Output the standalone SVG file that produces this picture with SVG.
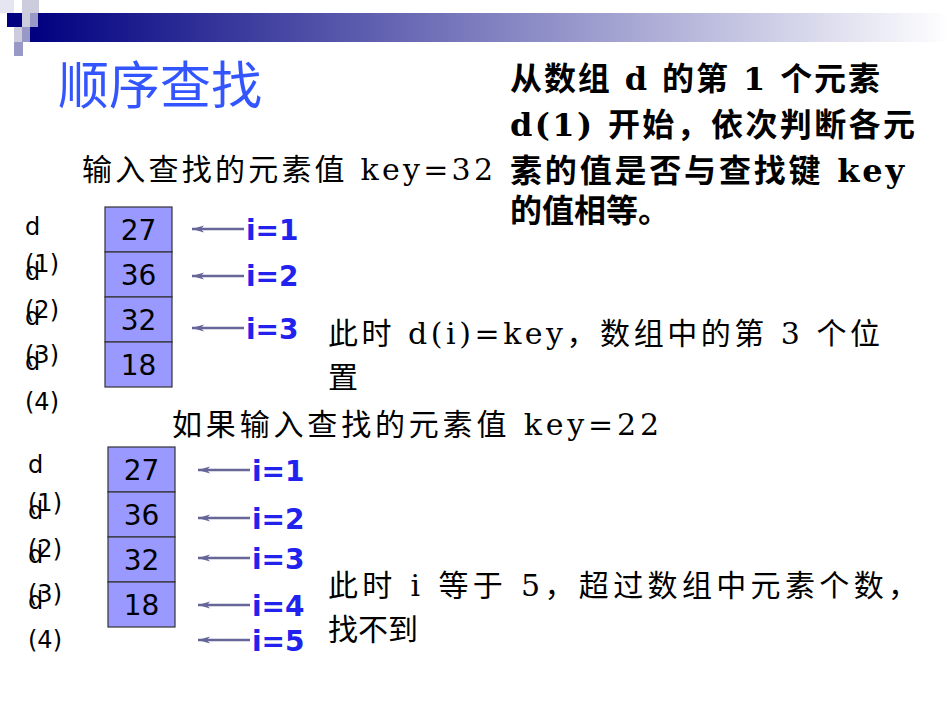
<svg xmlns="http://www.w3.org/2000/svg" width="950" height="713" viewBox="0 0 950 713">
<defs>
<linearGradient id="bar" x1="0" x2="1" y1="0" y2="0"><stop offset="0" stop-color="#000080"/><stop offset="0.5" stop-color="#8080c0"/><stop offset="1" stop-color="#ffffff"/></linearGradient>
<marker id="ah" markerWidth="12" markerHeight="8" refX="12" refY="4" orient="auto" markerUnits="userSpaceOnUse"><path d="M0,0.5 L12,4 L0,7.5 L3,4 Z" fill="#666699"/></marker>
<style>
.cell{fill:#9999ff;stroke:#333333;stroke-width:1.2}
.num{font-family:"DejaVu Sans",sans-serif;font-size:28px;fill:#000;text-anchor:middle}
.lbl{font-family:"DejaVu Sans",sans-serif;font-size:24px;fill:#000}
.iv{font-family:"DejaVu Sans",sans-serif;font-size:28px;font-weight:bold;fill:#2222ee}
.cn{font-family:"DejaVu Serif","Noto Sans CJK SC",serif;font-size:30px;fill:#000}
.cnb{font-family:"DejaVu Serif","Noto Sans CJK SC",serif;font-size:32px;font-weight:bold;fill:#000}
.arr{stroke:#666699;stroke-width:2.5;marker-end:url(#ah)}
</style>
</defs>
<g id="header">
<rect x="30" y="13" width="920" height="29" fill="url(#bar)"/>
<rect x="0" y="0" width="14" height="13" fill="#e6e6f2"/>
<rect x="22" y="0" width="17" height="13" fill="#ccccdd"/>
<rect x="7" y="13" width="15" height="14" fill="#000080"/>
<rect x="22" y="13" width="8" height="14" fill="#ccccdd"/>
<rect x="30" y="13" width="8" height="14" fill="#9999c8"/>
<rect x="14" y="27" width="16" height="15" fill="#ccccdd"/>
<rect x="22" y="27" width="8" height="15" fill="#9999c8"/>
<rect x="14" y="42" width="9" height="14" fill="#9999c8"/>
<text x="58" y="104" font-family="'Noto Sans CJK SC',sans-serif" font-size="51" fill="#3355ff">顺序查找</text>
</g>
<g id="desc">
<text class="cnb" x="510" y="90" textLength="370">从数组 d 的第 1 个元素</text>
<text class="cnb" x="510" y="136" textLength="405">d(1) 开始，依次判断各元</text>
<text class="cnb" x="510" y="182" textLength="394">素的值是否与查找键 key</text>
<text class="cnb" x="510" y="222">的值相等。</text>
</g>
<g id="caption1"><text class="cn" x="82" y="180" textLength="411">输入查找的元素值 key=32</text></g>
<g id="array1">
<rect class="cell" x="105" y="207" width="67" height="45"/><text class="num" x="138.5" y="240">27</text>
<rect class="cell" x="105" y="252" width="67" height="45"/><text class="num" x="138.5" y="285">36</text>
<rect class="cell" x="105" y="297" width="67" height="45"/><text class="num" x="138.5" y="330">32</text>
<rect class="cell" x="105" y="342" width="67" height="45"/><text class="num" x="138.5" y="375">18</text>
<text class="lbl" x="25" y="235">d</text><text class="lbl" x="25" y="272">(1)</text>
<text class="lbl" x="25" y="280">d</text><text class="lbl" x="25" y="318">(2)</text>
<text class="lbl" x="25" y="325">d</text><text class="lbl" x="25" y="363">(3)</text>
<text class="lbl" x="25" y="370">d</text><text class="lbl" x="25" y="410">(4)</text>
</g>
<g id="connectors">
<line class="arr" x1="244" y1="229" x2="192" y2="229"/>
<line class="arr" x1="244" y1="276" x2="192" y2="276"/>
<line class="arr" x1="244" y1="328" x2="192" y2="328"/>
<line class="arr" x1="250" y1="470" x2="198" y2="470"/>
<line class="arr" x1="250" y1="518" x2="198" y2="518"/>
<line class="arr" x1="250" y1="558" x2="198" y2="558"/>
<line class="arr" x1="250" y1="605" x2="198" y2="605"/>
<line class="arr" x1="250" y1="640" x2="198" y2="640"/>
</g>
<g id="ilabels1">
<text class="iv" x="246" y="240">i=1</text>
<text class="iv" x="246" y="286">i=2</text>
<text class="iv" x="246" y="339">i=3</text>
</g>
<g id="result1"><text class="cn" x="328" y="344" textLength="552">此时 d(i)=key，数组中的第 3 个位</text><text class="cn" x="328" y="388">置</text></g>
<g id="caption2"><text class="cn" x="172" y="435" textLength="487">如果输入查找的元素值 key=22</text></g>
<g id="array2">
<rect class="cell" x="108" y="447" width="67" height="45"/><text class="num" x="141.5" y="480">27</text>
<rect class="cell" x="108" y="492" width="67" height="45"/><text class="num" x="141.5" y="525">36</text>
<rect class="cell" x="108" y="537" width="67" height="45"/><text class="num" x="141.5" y="570">32</text>
<rect class="cell" x="108" y="582" width="67" height="45"/><text class="num" x="141.5" y="615">18</text>
<text class="lbl" x="28" y="473">d</text><text class="lbl" x="28" y="511">(1)</text>
<text class="lbl" x="28" y="519">d</text><text class="lbl" x="28" y="557">(2)</text>
<text class="lbl" x="28" y="563">d</text><text class="lbl" x="28" y="602">(3)</text>
<text class="lbl" x="28" y="609">d</text><text class="lbl" x="28" y="648">(4)</text>
</g>
<g id="ilabels2">
<text class="iv" x="252" y="481">i=1</text>
<text class="iv" x="252" y="529">i=2</text>
<text class="iv" x="252" y="569">i=3</text>
<text class="iv" x="252" y="616">i=4</text>
<text class="iv" x="252" y="651">i=5</text>
</g>
<g id="result2"><text class="cn" x="328" y="596" textLength="590">此时 i 等于 5，超过数组中元素个数，</text><text class="cn" x="328" y="640">找不到</text></g>
</svg>
